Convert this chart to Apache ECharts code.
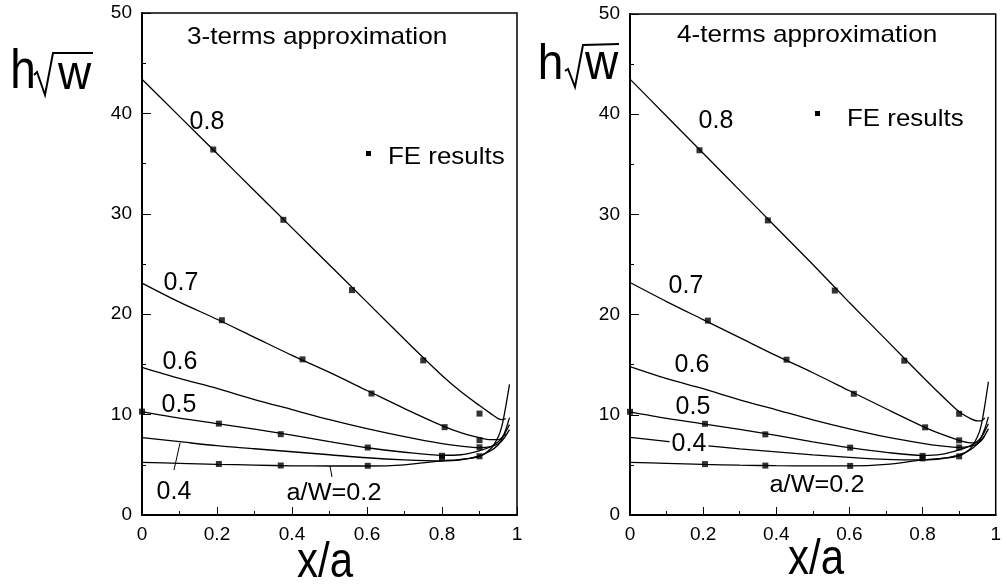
<!DOCTYPE html>
<html>
<head>
<meta charset="utf-8">
<script src="https://cdn.jsdelivr.net/npm/echarts@6/dist/echarts.min.js"></script>
<style>
  html, body { margin: 0; padding: 0; background: #fff; }
  #chart { width: 1004px; height: 588px; }
</style>
</head>
<body>
<div id="chart"></div>
<script>
// ---- data ---------------------------------------------------------------
// positions x/a along the crack where the weight-function curves are sampled
const xs = [0, 0.1, 0.2, 0.3, 0.4, 0.5, 0.6, 0.7, 0.8, 0.85, 0.9, 0.93, 0.95, 0.96, 0.97, 0.98];

// crack-depth ratios a/W, one curve each
const ratios = ['0.2', '0.4', '0.5', '0.6', '0.7', '0.8'];

// 3-terms approximation, h*sqrt(W)
const fit3_a02 = [5.25, 5.15, 5.05, 4.97, 4.9, 4.88, 4.88, 5.0, 5.4, 5.55, 5.85, 6.6, 7.8, 8.9, 10.8, 13.0];
const fit3_a04 = [7.7, 7.3, 6.9, 6.6, 6.3, 6.0, 5.7, 5.5, 5.4, 5.5, 5.9, 6.4, 7.0, 7.6, 8.5, 9.7];
const fit3_a05 = [10.3, 9.65, 9.1, 8.55, 7.95, 7.3, 6.7, 6.25, 5.95, 6.0, 6.4, 6.8, 7.3, 7.7, 8.3, 9.0];
const fit3_a06 = [14.7, 13.6, 12.6, 11.5, 10.5, 9.5, 8.6, 7.8, 7.1, 6.85, 6.7, 6.8, 7.1, 7.4, 7.9, 8.5];
const fit3_a07 = [23.1, 21.2, 19.5, 17.7, 15.9, 14.2, 12.4, 10.6, 8.9, 8.2, 7.7, 7.5, 7.5, 7.7, 8.1, null];
const fit3_a08 = [43.4, 39.7, 36.0, 32.3, 28.6, 24.9, 21.2, 17.5, 13.9, 12.3, 10.9, 10.1, 9.6, 9.5, 9.6, null];

// 4-terms approximation, h*sqrt(W)
const fit4_a02 = [5.25, 5.15, 5.05, 4.97, 4.92, 4.9, 4.9, 5.05, 5.5, 5.65, 5.9, 6.6, 7.8, 8.9, 10.9, 13.3];
const fit4_a04 = [7.75, 7.35, 6.95, 6.6, 6.3, 6.0, 5.75, 5.55, 5.5, 5.6, 6.0, 6.5, 7.1, 7.7, 8.6, 9.8];
const fit4_a05 = [10.3, 9.65, 9.1, 8.55, 7.95, 7.3, 6.72, 6.25, 5.95, 6.05, 6.5, 6.9, 7.35, 7.75, 8.35, 9.1];
const fit4_a06 = [14.8, 13.6, 12.6, 11.5, 10.5, 9.5, 8.6, 7.8, 7.15, 6.9, 6.75, 6.85, 7.1, 7.45, 7.95, 8.6];
const fit4_a07 = [23.2, 21.3, 19.5, 17.7, 15.9, 14.2, 12.4, 10.6, 8.85, 8.1, 7.45, 7.2, 7.2, 7.4, 7.9, null];
const fit4_a08 = [43.5, 39.8, 36.1, 32.4, 28.7, 25.0, 21.2, 17.5, 13.8, 12.0, 10.3, 9.65, 9.4, 9.4, 9.7, null];

// finite-element results [x/a, h*sqrt(W)]
const fe_a02 = [[0.205, 5.08], [0.37, 4.93], [0.602, 4.9], [0.8, 5.65], [0.9, 5.85]];
const fe_a05 = [[0, 10.3], [0.205, 9.1], [0.37, 8.05], [0.602, 6.72], [0.8, 5.9], [0.9, 6.74]];
const fe_a07 = [[0.213, 19.4], [0.428, 15.5], [0.612, 12.1], [0.807, 8.75], [0.9, 7.45]];
const fe_a08 = [[0.19, 36.4], [0.377, 29.4], [0.56, 22.4], [0.75, 15.4], [0.9, 10.1]];

// axis tick labels
const xTickLabels = ['0', '0.2', '0.4', '0.6', '0.8', '1'];
const yTickLabels = ['0', '10', '20', '30', '40', '50'];

// ---- chart --------------------------------------------------------------
const FONT = '"Liberation Sans", Arial, Helvetica, sans-serif';
const fits3 = [fit3_a02, fit3_a04, fit3_a05, fit3_a06, fit3_a07, fit3_a08];
const fits4 = [fit4_a02, fit4_a04, fit4_a05, fit4_a06, fit4_a07, fit4_a08];
const feSets = [fe_a02, fe_a05, fe_a07, fe_a08];

function pairUp(ys) {
  const out = [];
  ys.forEach((y, i) => { if (y !== null) out.push([xs[i], y]); });
  return out;
}

function xAxisFor(gridIndex) {
  return {
    type: 'value', gridIndex, min: 0, max: 1, interval: 0.2,
    axisLine: { show: true, lineStyle: { color: '#000', width: 2 } },
    axisTick: { show: true, inside: true, length: 8, lineStyle: { color: '#000', width: 1 } },
    minorTick: { show: true, splitNumber: 2, length: 4, lineStyle: { color: '#000', width: 1 } },
    splitLine: { show: false },
    axisLabel: {
      color: '#000', fontFamily: FONT, fontSize: 19, margin: 10,
      formatter: v => xTickLabels[Math.round(v / 0.2)]
    }
  };
}

function yAxisFor(gridIndex) {
  return {
    type: 'value', gridIndex, min: 0, max: 50, interval: 10,
    axisLine: { show: true, lineStyle: { color: '#000', width: 2 } },
    axisTick: { show: true, inside: true, length: 9, lineStyle: { color: '#000', width: 1 } },
    minorTick: { show: true, splitNumber: 2, length: 4, lineStyle: { color: '#000', width: 1 } },
    splitLine: { show: false },
    axisLabel: {
      color: '#000', fontFamily: FONT, fontSize: 19, margin: 10,
      formatter: v => yTickLabels[Math.round(v / 10)]
    }
  };
}

const series = [];
[fits3, fits4].forEach((fits, p) => {
  fits.forEach((ys, i) => {
    series.push({
      type: 'line', name: 'a/W=' + ratios[i], xAxisIndex: p, yAxisIndex: p,
      data: pairUp(ys), showSymbol: false, symbol: 'none',
      smooth: 0.3,
      lineStyle: { color: '#000', width: 1.3 }, z: 2
    });
  });
  feSets.forEach(pts => {
    series.push({
      type: 'scatter', name: 'FE results', xAxisIndex: p, yAxisIndex: p,
      data: pts, symbol: 'rect', symbolSize: 6,
      itemStyle: { color: '#000' }, z: 3
    });
  });
});

function label(text, x, y, size, extra) {
  return Object.assign({
    type: 'text', x, y,
    style: { text, fill: '#000', font: size + 'px ' + FONT, textAlign: 'center', textVerticalAlign: 'middle' }
  }, extra || {});
}

function leftLabel(text, x, y, size, sx) {
  return {
    type: 'text', x, y, scaleX: sx,
    style: { text, fill: '#000', font: size + 'px ' + FONT, textAlign: 'left', textVerticalAlign: 'middle' }
  };
}

function seg(x1, y1, x2, y2) {
  return { type: 'line', shape: { x1, y1, x2, y2 }, style: { stroke: '#000', lineWidth: 1 } };
}

// h√W symbol: letters plus a drawn radical sign
function rootW(hx, wx, cy, s, rad) {
  return [
    { type: 'text', x: hx, y: cy, scaleY: s[0],
      style: { text: 'h', fill: '#000', font: '46px ' + FONT, textAlign: 'center', textVerticalAlign: 'middle' } },
    { type: 'polyline', shape: { points: rad }, style: { stroke: '#000', lineWidth: 2, fill: null } },
    { type: 'text', x: wx, y: cy + s[2], scaleY: s[1],
      style: { text: 'w', fill: '#000', font: '46px ' + FONT, textAlign: 'center', textVerticalAlign: 'middle' } }
  ];
}

const graphic = [
  // left panel
  leftLabel('3-terms approximation', 187, 37, 24, 1.09),
  { type: 'rect', shape: { x: 366, y: 151, width: 5, height: 5 }, style: { fill: '#000' } },
  leftLabel('FE results', 388, 157, 24, 1.08),
  label('0.8', 207, 122, 25),
  label('0.7', 181, 283, 25),
  label('0.6', 180, 362, 25),
  label('0.5', 179, 405, 25),
  label('0.4', 174, 492, 25),
  seg(174, 470, 180, 443),
  label('a/W=0.2', 334, 494, 23, { scaleX: 1.1 }),
  seg(332, 477, 330, 466),
  ...rootW(23, 74.5, 72.8, [1.2, 1.05, 2.4], [[34, 75], [37, 72], [45, 95], [53, 53], [93, 53]]),
  label('x/a', 325, 563.7, 42, { scaleY: 1.19 }),

  // right panel
  leftLabel('4-terms approximation', 677, 35, 24, 1.09),
  { type: 'rect', shape: { x: 815, y: 111, width: 5, height: 5 }, style: { fill: '#000' } },
  leftLabel('FE results', 847, 119, 24, 1.08),
  label('0.8', 716, 121, 25),
  label('0.7', 686, 286, 25),
  label('0.6', 692, 365, 25),
  label('0.5', 693, 407, 25),
  { type: 'text', x: 689, y: 444,
    style: { text: '0.4', fill: '#000', font: '25px ' + FONT, textAlign: 'center', textVerticalAlign: 'middle', backgroundColor: '#fff', padding: [0, 2] } },
  label('a/W=0.2', 817, 486, 23, { scaleX: 1.1 }),
  ...rootW(550.5, 601.5, 65.6, [1.09, 1.09, 0], [[565, 71], [568, 69], [575, 87], [583, 45], [619, 44]]),
  label('x/a', 816, 560.7, 42, { scaleY: 1.19 })
];
graphic.forEach(g => { g.z = 10; });

const chart = echarts.init(document.getElementById('chart'), null, { renderer: 'canvas' });
chart.setOption({
  animation: false,
  backgroundColor: '#fff',
  grid: [
    { left: 142, top: 13, width: 375, height: 502, show: true, borderColor: '#000', borderWidth: 1.5, backgroundColor: 'transparent' },
    { left: 630, top: 14, width: 377, height: 501, show: true, borderColor: '#000', borderWidth: 1.5, backgroundColor: 'transparent' }
  ],
  xAxis: [xAxisFor(0), xAxisFor(1)],
  yAxis: [yAxisFor(0), yAxisFor(1)],
  series,
  graphic
});
</script>
</body>
</html>
